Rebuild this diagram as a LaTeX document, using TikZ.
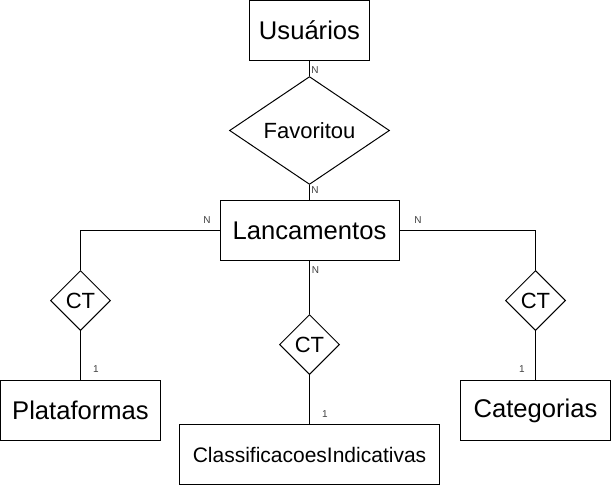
\documentclass[tikz,border=0pt]{standalone}
\usepackage{fontspec}
\setmainfont{Liberation Sans}
\usetikzlibrary{shapes.geometric}
\begin{document}
\begin{tikzpicture}[x=1pt,y=-1pt,line width=1pt,
  entity/.style={draw,rectangle,minimum height=60pt,inner sep=0pt,font=\fontsize{25.6}{28}\selectfont},
  rel/.style={draw,diamond,inner sep=0pt,font=\fontsize{22}{26}\selectfont},
  card/.style={font=\fontsize{10}{12}\selectfont,text=black!75,inner sep=0pt,anchor=center},
  conn/.style={draw,line width=1pt}]
\useasboundingbox (0,0) rectangle (611,485);
\node[entity,minimum width=120pt] (usu) at (309.5,30.5) {Usuários};
\node[rel,minimum width=160pt,minimum height=80pt] (fav) at (309.5,130.5) {Favoritou};
\node[entity,minimum width=179pt] (lan) at (309.5,230.5) {Lancamentos};
\node[rel,minimum width=60pt,minimum height=60pt] (ctl) at (80.5,300.5) {CT};
\node[rel,minimum width=60pt,minimum height=60pt] (ctm) at (309.5,344.5) {CT};
\node[rel,minimum width=60pt,minimum height=60pt] (ctr) at (535.5,300.5) {CT};
\node[entity,minimum width=160pt] (pla) at (80.5,410.5) {Plataformas};
\node[entity,minimum width=260pt,font=\fontsize{21}{24}\selectfont] (cla) at (309.5,454.5) {ClassificacoesIndicativas};
\node[entity,minimum width=150pt] (cat) at (535.5,410.5) {Categorias};
\draw[conn] (usu.south) -- (fav.north);
\draw[conn] (fav.south) -- (lan.north);
\draw[conn] (lan.west) -| (ctl.north);
\draw[conn] (lan.east) -| (ctr.north);
\draw[conn] (lan.south) -- (ctm.north);
\draw[conn] (ctl.south) -- (pla.north);
\draw[conn] (ctm.south) -- (cla.north);
\draw[conn] (ctr.south) -- (cat.north);
\node[card] (n1) at (315,70) {N};
\node[card] (n2) at (315,190) {N};
\node[card] (n3) at (207,220) {N};
\node[card] (n4) at (418,220) {N};
\node[card] (n5) at (315.5,270) {N};
\node[card] (o1) at (96,369) {1};
\node[card] (o2) at (522,369) {1};
\node[card] (o3) at (325,414) {1};
\end{tikzpicture}
\end{document}
